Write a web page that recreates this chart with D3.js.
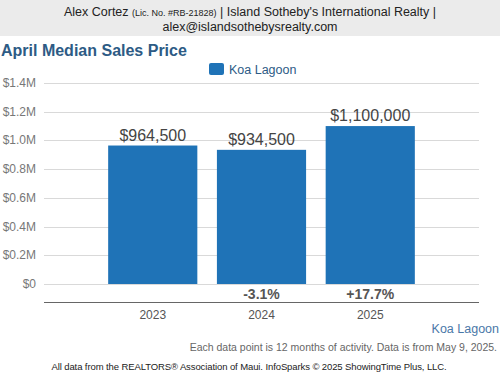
<!DOCTYPE html>
<html>
<head>
	<title>April Median Sales Price</title>
	<script src="https://d3js.org/d3.v7.min.js"></script>
	<style>
		body { margin: 0; background: #fff; }
		svg { display: block; font-family: "Liberation Sans", Arial, sans-serif; }
	</style>
</head>
<body>
<svg width="500" height="375"></svg>

<script type="text/javascript">
var years = ['2023', '2024', '2025'];
var prices = [964500, 934500, 1100000];
var changes = [null, '-3.1%', '+17.7%'];
var yTicks = [0, 200000, 400000, 600000, 800000, 1000000, 1200000, 1400000];
var seriesName = 'Koa Lagoon';

var svg = d3.select('svg');
var blue = '#1f73b7';
var titleBlue = '#2d5b85';

// header band
svg.append('rect')
	.attr('width', 500)
	.attr('height', 36)
	.attr('fill', '#ebebeb');

var head = svg.append('text')
	.attr('x', 250)
	.attr('y', 16)
	.attr('text-anchor', 'middle')
	.attr('font-size', 12.5)
	.attr('fill', '#222');
head.append('tspan').text('Alex Cortez ');
head.append('tspan').attr('font-size', 9).text('(Lic. No. #RB-21828)');
head.append('tspan').text(' | Island Sotheby\'s International Realty |');

svg.append('text')
	.attr('x', 250)
	.attr('y', 31)
	.attr('text-anchor', 'middle')
	.attr('font-size', 12.5)
	.attr('fill', '#222')
	.text('alex@islandsothebysrealty.com');

svg.append('text')
	.attr('x', 1)
	.attr('y', 56)
	.attr('font-size', 16)
	.attr('font-weight', 'bold')
	.attr('fill', titleBlue)
	.text('April Median Sales Price');

// legend
svg.append('rect')
	.attr('x', 209)
	.attr('y', 63)
	.attr('width', 15)
	.attr('height', 12)
	.attr('rx', 2)
	.attr('fill', blue);
svg.append('text')
	.attr('x', 229)
	.attr('y', 74)
	.attr('font-size', 12.5)
	.attr('fill', titleBlue)
	.text(seriesName);

var x = d3.scalePoint()
	.domain(years)
	.range([44, 479])
	.padding(1);

var y = d3.scaleLinear()
	.domain([0, 1400000])
	.range([284, 83]);

var barWidth = x.step() * 0.82;

// grid
svg.append('g')
	.selectAll('line')
	.data(yTicks)
	.enter()
	.append('line')
	.attr('x1', 44)
	.attr('x2', 479)
	.attr('y1', function(d) { return Math.round(y(d)) + 0.5; })
	.attr('y2', function(d) { return Math.round(y(d)) + 0.5; })
	.attr('stroke', '#d9d9d9');

svg.append('g')
	.selectAll('text')
	.data(yTicks)
	.enter()
	.append('text')
	.attr('x', 36)
	.attr('y', function(d) { return y(d) + 4; })
	.attr('text-anchor', 'end')
	.attr('font-size', 12)
	.attr('fill', '#777')
	.text(function(d) { return d === 0 ? '$0' : '$' + (d / 1e6).toFixed(1) + 'M'; });

// bars
svg.append('g')
	.selectAll('rect')
	.data(prices)
	.enter()
	.append('rect')
	.attr('x', function(d, i) { return x(years[i]) - barWidth / 2; })
	.attr('y', function(d) { return y(d); })
	.attr('width', barWidth)
	.attr('height', function(d) { return y(0) - y(d); })
	.attr('fill', blue);

svg.append('g')
	.selectAll('text')
	.data(prices)
	.enter()
	.append('text')
	.attr('x', function(d, i) { return x(years[i]); })
	.attr('y', function(d) { return y(d) - 5; })
	.attr('text-anchor', 'middle')
	.attr('font-size', 16)
	.attr('fill', '#444')
	.text(function(d) { return '$' + d3.format(',')(d); });

// change labels
svg.append('g')
	.selectAll('text')
	.data(changes)
	.enter()
	.append('text')
	.attr('x', function(d, i) { return x(years[i]); })
	.attr('y', 299)
	.attr('text-anchor', 'middle')
	.attr('font-size', 14)
	.attr('font-weight', 'bold')
	.attr('fill', '#555')
	.text(function(d) { return d || ''; });

// x axis
svg.append('line')
	.attr('x1', 44)
	.attr('x2', 479)
	.attr('y1', 302.5)
	.attr('y2', 302.5)
	.attr('stroke', '#666');

svg.append('g')
	.selectAll('text')
	.data(years)
	.enter()
	.append('text')
	.attr('x', function(d) { return x(d); })
	.attr('y', 319)
	.attr('text-anchor', 'middle')
	.attr('font-size', 12)
	.attr('fill', '#555')
	.text(function(d) { return d; });

svg.append('text')
	.attr('x', 499)
	.attr('y', 333)
	.attr('text-anchor', 'end')
	.attr('font-size', 12.5)
	.attr('fill', '#4a78a8')
	.text(seriesName);

svg.append('text')
	.attr('x', 497)
	.attr('y', 351)
	.attr('text-anchor', 'end')
	.attr('font-size', 10.5)
	.attr('fill', '#666')
	.text('Each data point is 12 months of activity. Data is from May 9, 2025.');

svg.append('text')
	.attr('x', 249)
	.attr('y', 370)
	.attr('text-anchor', 'middle')
	.attr('font-size', 9.5)
	.attr('fill', '#222')
	.attr('letter-spacing', -0.1)
	.text('All data from the REALTORS\u00ae Association of Maui. InfoSparks \u00a9 2025 ShowingTime Plus, LLC.');
</script>

</body>
</html>
